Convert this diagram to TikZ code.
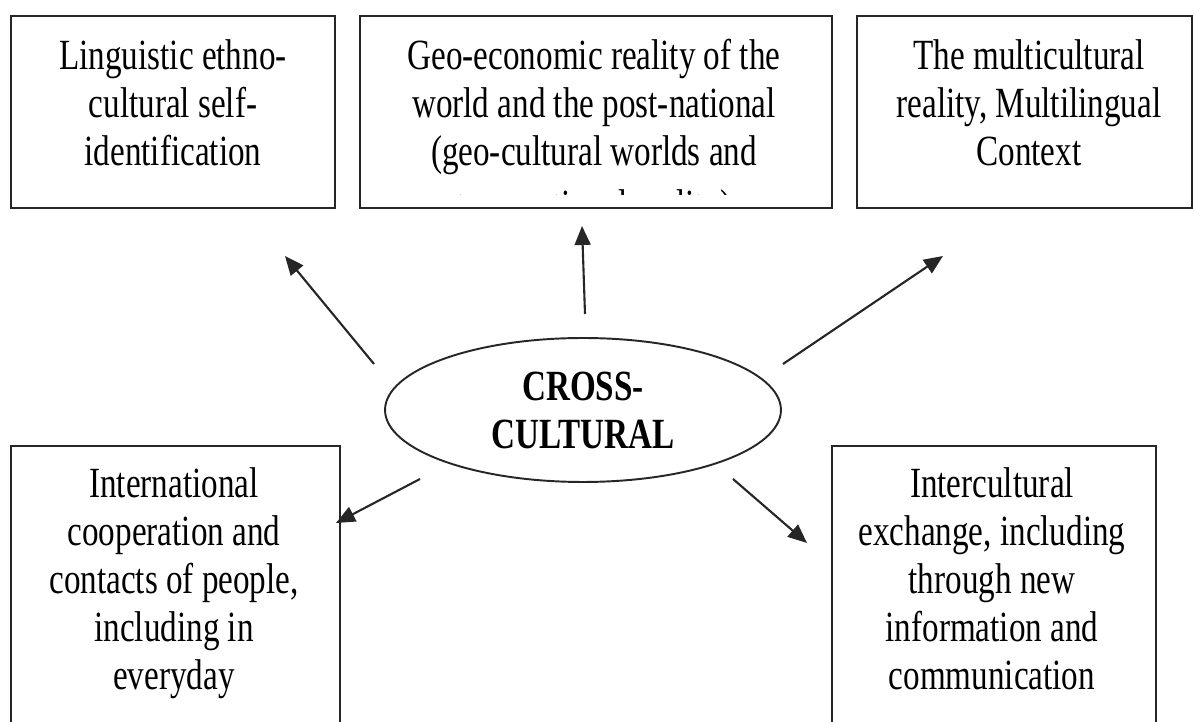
\documentclass[tikz,border=0pt]{standalone}
\usepackage{fontspec}
\setmainfont{Liberation Serif}[FakeStretch=0.77]
\usetikzlibrary{arrows.meta, fit, shapes.geometric}
\tikzset{
  every node/.style={font=\fontsize{24.5}{27.3}\selectfont},
  frame/.style = {rectangle, draw=black!85, line width=1.1pt, inner sep=0pt},
  txt/.style   = {align=center, inner sep=0pt, anchor=north},
  hub/.style   = {ellipse, draw=black!85, line width=1.1pt, inner sep=0pt, align=center,
                  minimum width=7.92cm, minimum height=2.88cm,
                  font=\fontsize{24.5}{27.3}\selectfont\bfseries},
  arrow/.style = {-{Triangle[length=0.38cm,width=0.32cm]}, line width=1.2pt, draw=black!85},
}

\begin{document}
\begin{tikzpicture}[x=0.02cm, y=-0.02cm]
  \clip (0,0) rectangle (1194,722);

  % ---- top row ----
  \node[frame, fit={(11,16) (335,208)}]   (ling)  {};
  \node[frame, fit={(360,16) (832,208)}]  (geo)   {};
  \node[frame, fit={(857,16) (1192,208)}] (multi) {};
  \node[txt] (lingtxt) at (173,39) {Linguistic ethno-\\cultural self-\\identification};
  \node[txt] (geotxt)  at (594,39) {Geo-economic reality of the\\world and the post-national\\(geo-cultural worlds and};
  \begin{scope}
    \clip (360,16) rectangle (832,194.5);
    \node[inner sep=0pt, anchor=base] (geotail) at (594,219.5) {transnational reality)};
  \end{scope}
  \node[txt] (multitxt) at (1029,39) {The multicultural\\reality, Multilingual\\Context};

  % ---- centre ----
  \node[hub] (cross) at (583,410) {CROSS-\\CULTURAL};

  % ---- bottom row ----
  \node[frame, fit={(11,446) (340,760)}]   (intl)  {};
  \node[frame, fit={(832,446) (1156,760)}] (inter) {};
  \node[txt] (intltxt)  at (174,467) {International\\cooperation and\\contacts of people,\\including in\\everyday};
  \node[txt] (intertxt) at (992,467) {Intercultural\\exchange, including\\through new\\information and\\communication};

  % ---- arrow ends ----
  \coordinate (lingS)  at (374,364);  \coordinate (lingE)  at (285,256);
  \coordinate (geoS)   at (585,314);  \coordinate (geoE)   at (582,226);
  \coordinate (multiS) at (783,364);  \coordinate (multiE) at (943,256);
  \coordinate (intlS)  at (420,479);  \coordinate (intlE)  at (336,523);
  \coordinate (interS) at (733,479);  \coordinate (interE) at (807,543);

  % ---- arrows out of the centre ----
  \draw[arrow] (lingS)  -- (lingE);
  \draw[arrow] (geoS)   -- (geoE);
  \draw[arrow] (multiS) -- (multiE);
  \draw[arrow] (intlS)  -- (intlE);
  \draw[arrow] (interS) -- (interE);
\end{tikzpicture}
\end{document}
